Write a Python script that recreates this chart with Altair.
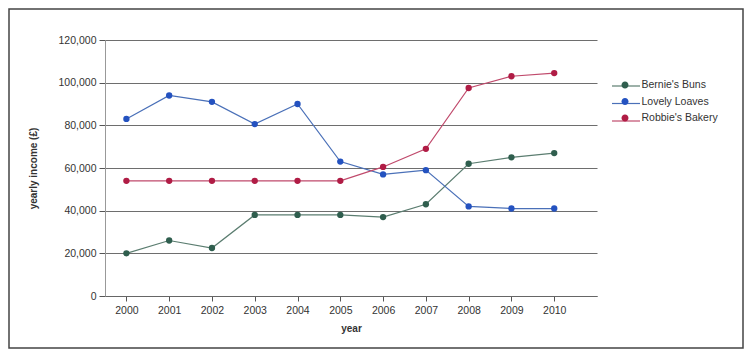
import altair as alt
import pandas as pd

years = list(range(2000, 2011))
series_names = ["Bernie's Buns", "Lovely Loaves", "Robbie's Bakery"]
bernies = [20000, 26000, 22500, 38000, 38000, 38000, 37000, 43000, 62000, 65000, 67000]
lovely = [83000, 94000, 91000, 80600, 90000, 63000, 57000, 59000, 42000, 41000, 41000]
robbies = [54000, 54000, 54000, 54000, 54000, 54000, 60500, 69000, 97500, 103000, 104500]
y_ticks = [0, 20000, 40000, 60000, 80000, 100000, 120000]
dot_colors = ["#2f5e4e", "#2452c0", "#b01c45"]
line_colors = ["#5b7d70", "#4a70b8", "#c04a6c"]

rows = []
for name, vals in zip(series_names, [bernies, lovely, robbies]):
    for yr, v in zip(years, vals):
        rows.append({"year": yr, "income": v, "bakery": name})
df = pd.DataFrame(rows)

FONT = "Liberation Sans"
W, H = 492, 256

x = alt.X("year:Q",
          scale=alt.Scale(domain=[1999.5, 2011], nice=False, zero=False),
          axis=alt.Axis(values=years, format="d", title="year", grid=False,
                        tickSize=5, tickColor="#555", domainColor="#666",
                        labelFontSize=10.5, labelColor="#333", labelPadding=4,
                        titleFontSize=10, titleFontWeight="bold", titleColor="#333",
                        titlePadding=8, labelFont=FONT, titleFont=FONT))
y = alt.Y("income:Q",
          scale=alt.Scale(domain=[0, 120000], nice=False),
          axis=alt.Axis(values=y_ticks, format=",d", title="yearly income (£)",
                        grid=True, gridColor="#6e6e6e", gridWidth=1.1,
                        tickSize=6, tickColor="#555", domainColor="#999",
                        labelFontSize=10.5, labelColor="#333", labelPadding=3,
                        titleFontSize=10, titleFontWeight="bold", titleColor="#333",
                        titlePadding=20, labelFont=FONT, titleFont=FONT))

frame = alt.Chart(pd.DataFrame({"a": [0]})).mark_rect(
    fill="transparent", stroke="#444", strokeWidth=1.5, clip=False
).encode(x=alt.value(-96), x2=alt.value(638), y=alt.value(-31), y2=alt.value(308))

legend_common = dict(orient="none", legendX=513, legendY=38, title=None,
                     symbolSize=196, labelOffset=9.5, rowPadding=3.5, padding=0,
                     labelFont=FONT, labelFontSize=10.5)

lines = alt.Chart(df).mark_line(strokeWidth=1.2).encode(
    x=x, y=y,
    color=alt.Color("bakery:N",
                    scale=alt.Scale(domain=series_names, range=line_colors),
                    legend=alt.Legend(symbolType="M-2,0L2,0", symbolStrokeWidth=1.2,
                                      labelExpr="''", **legend_common)),
)

points = alt.Chart(df).mark_circle(size=40, opacity=1).encode(
    x=x, y=y,
    fill=alt.Fill("bakery:N",
                  scale=alt.Scale(domain=series_names, range=dot_colors),
                  legend=alt.Legend(symbolType="M0.5,0A0.5,0.5,0,1,1,-0.5,0A0.5,0.5,0,1,1,0.5,0Z",
                                    symbolStrokeWidth=0, labelColor="#333",
                                    **legend_common)),
)

chart = alt.layer(frame, lines, points).resolve_scale(
    color="independent", fill="independent"
).properties(
    width=W, height=H,
    autosize=alt.AutoSizeParams(type="none"),
    padding={"left": 97, "top": 32, "right": 148, "bottom": 54},
    background="white",
).configure_view(stroke=None)

chart.save("out.html", embed_options={"renderer": "svg", "actions": False})
